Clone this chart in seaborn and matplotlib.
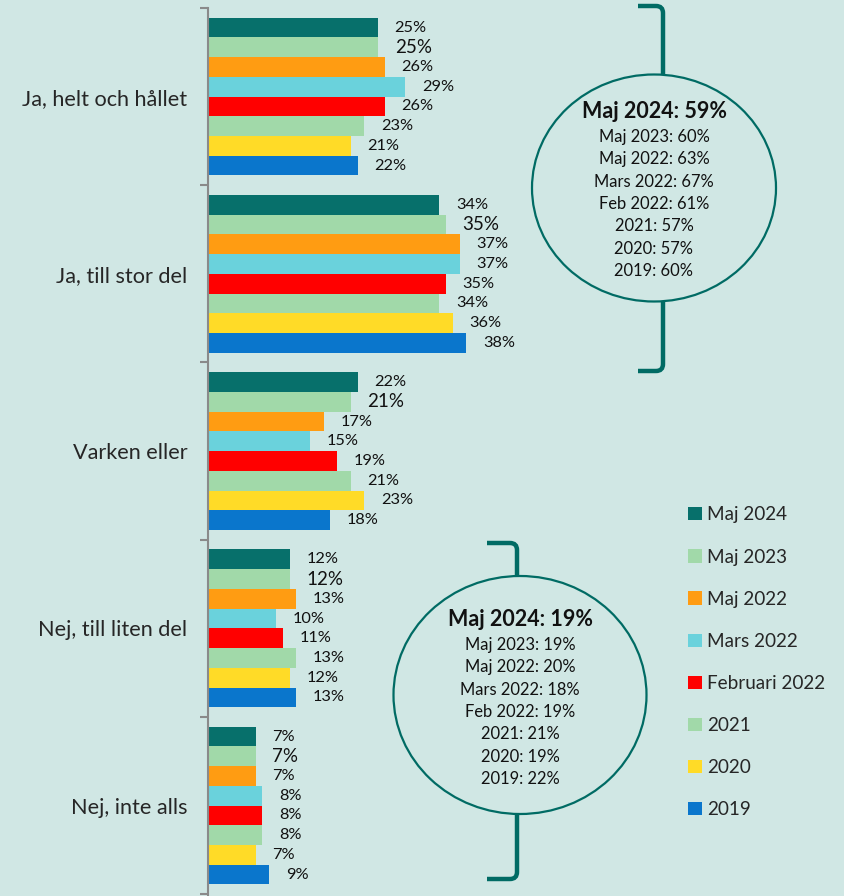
import pandas as pd
import matplotlib.pyplot as plt
import seaborn as sns
from matplotlib.patches import Ellipse
from matplotlib.path import Path
from matplotlib.patches import PathPatch

# data
categories = ['Ja, helt och hållet', 'Ja, till stor del', 'Varken eller',
              'Nej, till liten del', 'Nej, inte alls']
series = ['Maj 2024', 'Maj 2023', 'Maj 2022', 'Mars 2022', 'Februari 2022',
          '2021', '2020', '2019']
maj_2024 = [25, 34, 22, 12, 7]
maj_2023 = [25, 35, 21, 12, 7]
maj_2022 = [26, 37, 17, 13, 7]
mars_2022 = [29, 37, 15, 10, 8]
feb_2022 = [26, 35, 19, 11, 8]
y2021 = [23, 34, 21, 13, 8]
y2020 = [21, 36, 23, 12, 7]
y2019 = [22, 38, 18, 13, 9]

summary_yes = ['Maj 2024: 59%', 'Maj 2023: 60%', 'Maj 2022: 63%', 'Mars 2022: 67%',
               'Feb 2022: 61%', '2021: 57%', '2020: 57%', '2019: 60%']
summary_no = ['Maj 2024: 19%', 'Maj 2023: 19%', 'Maj 2022: 20%', 'Mars 2022: 18%',
              'Feb 2022: 19%', '2021: 21%', '2020: 19%', '2019: 22%']

colors = ['#07706b', '#a1d9a9', '#ff9c12', '#6ad2dc', '#ff0000',
          '#a1d9a9', '#ffdb27', '#0a76cc']
bg = '#d0e7e4'
teal = '#006b64'

values = [maj_2024, maj_2023, maj_2022, mars_2022, feb_2022, y2021, y2020, y2019]
rows = []
for s, vals in zip(series, values):
    for c, v in zip(categories, vals):
        rows.append({'Svar': c, 'Period': s, 'Andel': v})
df = pd.DataFrame(rows)

sns.set_style('white')
plt.rcParams['font.family'] = ['Lato', 'DejaVu Sans']

fig = plt.figure(figsize=(8.44, 8.96), dpi=100)
fig.patch.set_facecolor(bg)
ax = fig.add_axes([208 / 844, 0, 636 / 844, 888 / 896])
ax.set_facecolor(bg)

sns.barplot(data=df, x='Andel', y='Svar', hue='Period', order=categories,
            hue_order=series, palette=colors, orient='h', width=0.89,
            saturation=1, edgecolor='none', linewidth=0, ax=ax)

ax.set_xlim(0, 636 / 6.8)
ax.set_ylim(4.51, -0.5)

for i, cont in enumerate(ax.containers):
    size = 13.5 if series[i] == 'Maj 2023' else 11.8
    ax.bar_label(cont, labels=[f'{v}%' for v in values[i]], padding=12,
                 fontsize=size, color='#111111')

handles, labels = ax.get_legend_handles_labels()
ax.get_legend().remove()
fig.legend(handles, labels, loc='upper left', bbox_to_anchor=(679 / 844, 1 - 497 / 896),
           frameon=False, fontsize=13.6, handlelength=0.7, handleheight=0.7,
           handletextpad=0.3, labelspacing=1.33, borderpad=0)

ax.set_xlabel('')
ax.set_ylabel('')
ax.xaxis.set_visible(False)
for side in ['top', 'right', 'bottom']:
    ax.spines[side].set_visible(False)
ax.spines['left'].set_color('#8a8a8a')
ax.spines['left'].set_linewidth(1.5)
ax.tick_params(axis='y', which='major', length=0, pad=15, labelsize=15.6)
ax.set_yticks([-0.5, 0.5, 1.5, 2.5, 3.5, 4.5], minor=True)
ax.tick_params(axis='y', which='minor', left=True, length=6, width=1.5, color='#8a8a8a')

# overlay in pixel coordinates for brackets and summary circles
ov = fig.add_axes([0, 0, 1, 1])
ov.set_xlim(0, 844)
ov.set_ylim(896, 0)
ov.axis('off')
ov.patch.set_alpha(0)


def bracket(x, y_top, y_bot, e_top, e_bot, hook):
    r = 7
    top = Path([(hook, y_top), (x - r, y_top), (x, y_top), (x, y_top + r), (x, e_top)],
               [Path.MOVETO, Path.LINETO, Path.CURVE3, Path.CURVE3, Path.LINETO])
    bot = Path([(x, e_bot), (x, y_bot - r), (x, y_bot), (x - r, y_bot), (hook, y_bot)],
               [Path.MOVETO, Path.LINETO, Path.CURVE3, Path.CURVE3, Path.LINETO])
    for p in (top, bot):
        ov.add_patch(PathPatch(p, fill=False, edgecolor=teal, lw=3.2, capstyle='butt'))


def summary(cx, cy, w, h, lines, y0):
    ov.add_patch(Ellipse((cx, cy), w, h, fill=False, edgecolor=teal, lw=1.6))
    ov.text(cx, y0 + 2, lines[0], ha='center', va='center', fontsize=15.5,
            fontweight='bold', color='#111111')
    for k, t in enumerate(lines[1:]):
        ov.text(cx, y0 + 27 + k * 22.3, t, ha='center', va='center',
                fontsize=11.9, color='#111111')


bracket(663, 6, 371, 75, 302, 638)
summary(654, 188, 244, 227, summary_yes, 110)
bracket(517, 543, 879, 576, 814, 487)
summary(520, 695, 253, 238, summary_no, 618)

fig.savefig('out.png', dpi=100, facecolor=bg)
